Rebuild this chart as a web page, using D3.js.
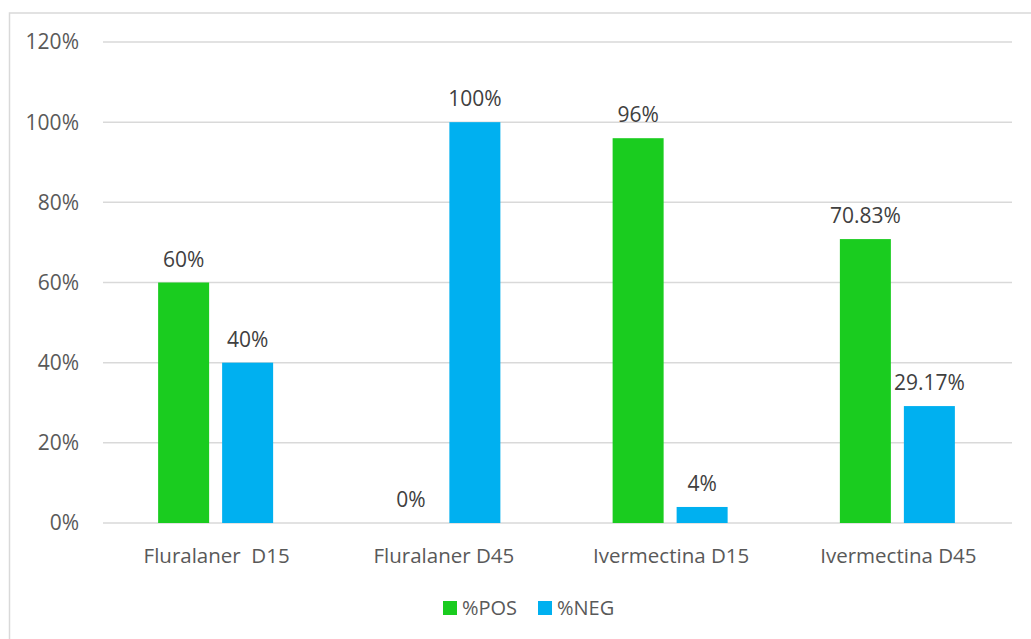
<!DOCTYPE html>
<html lang="en">
<head>
    <meta charset="UTF-8">
    <title>%POS / %NEG</title>
    <script src="https://d3js.org/d3.v7.min.js"></script>
    <style>
        body { margin: 0; background: #fff; }
        text { font-family: "Open Sans", "Noto Sans", sans-serif; fill: #595959; }
    </style>
</head>
<body>
    <svg width="1031" height="639" id="chart"></svg>
    <script>
        const width = 1031;
        const height = 639;

        // Data
        const categories = ["Fluralaner  D15", "Fluralaner D45", "Ivermectina D15", "Ivermectina D45"];
        const posValues = [60, 0, 96, 70.83];
        const negValues = [40, 100, 4, 29.17];
        const posLabels = ["60%", "0%", "96%", "70.83%"];
        const negLabels = ["40%", "100%", "4%", "29.17%"];
        const yTicks = [0, 20, 40, 60, 80, 100, 120];
        const seriesNames = ["%POS", "%NEG"];
        const seriesColors = ["#1acc1f", "#00b0f0"];

        const series = [
            { name: seriesNames[0], values: posValues, labels: posLabels, color: seriesColors[0] },
            { name: seriesNames[1], values: negValues, labels: negLabels, color: seriesColors[1] }
        ];

        const margin = { left: 103, right: 19, top: 42, bottom: 116 };
        const svg = d3.select("#chart");

        // Outer chart border (runs off the right and bottom edges)
        svg.append("rect")
            .attr("x", 9.5)
            .attr("y", 13)
            .attr("width", width + 20)
            .attr("height", height + 20)
            .attr("fill", "none")
            .attr("stroke", "#d9d9d9")
            .attr("stroke-width", 1.5);

        const x = d3.scaleBand()
            .domain(categories)
            .range([margin.left, width - margin.right]);

        const y = d3.scaleLinear()
            .domain([0, 120])
            .range([height - margin.bottom, margin.top]);

        // Gridlines
        svg.append("g")
            .selectAll("line")
            .data(yTicks)
            .join("line")
            .attr("x1", margin.left)
            .attr("x2", width - margin.right)
            .attr("y1", d => y(d))
            .attr("y2", d => y(d))
            .attr("stroke", "#d9d9d9")
            .attr("stroke-width", 1.5);

        // Y tick labels
        svg.append("g")
            .selectAll("text")
            .data(yTicks)
            .join("text")
            .attr("x", 79)
            .attr("y", d => y(d))
            .attr("dy", "0.35em")
            .attr("text-anchor", "end")
            .attr("font-size", "21px")
            .text(d => d + "%");

        // Bars
        const barW = 51;
        const gap = 13;
        const offsets = [-(barW + gap / 2) - 1, gap / 2 - 1];

        series.forEach((s, si) => {
            const g = svg.append("g");
            g.selectAll("rect")
                .data(s.values)
                .join("rect")
                .attr("x", (d, i) => x(categories[i]) + x.bandwidth() / 2 + offsets[si])
                .attr("y", d => y(d))
                .attr("width", barW)
                .attr("height", d => y(0) - y(d))
                .attr("fill", s.color);

            g.selectAll("text")
                .data(s.values)
                .join("text")
                .attr("x", (d, i) => x(categories[i]) + x.bandwidth() / 2 + offsets[si] + barW / 2)
                .attr("y", d => y(d) - 16)
                .attr("text-anchor", "middle")
                .attr("font-size", "21px")
                .style("fill", "#404040")
                .text((d, i) => s.labels[i]);
        });

        // Category labels
        svg.append("g")
            .selectAll("text")
            .data(categories)
            .join("text")
            .attr("x", d => x(d) + x.bandwidth() / 2)
            .attr("y", 563)
            .attr("text-anchor", "middle")
            .attr("font-size", "20.5px")
            .style("white-space", "pre")
            .text(d => d);

        // Legend
        const legendX = [443, 538];
        const legend = svg.append("g");
        series.forEach((s, i) => {
            legend.append("rect")
                .attr("x", legendX[i])
                .attr("y", 601)
                .attr("width", 14)
                .attr("height", 14)
                .attr("fill", s.color);
            legend.append("text")
                .attr("x", legendX[i] + 19)
                .attr("y", 615)
                .attr("font-size", "20px")
                .text(s.name);
        });
    </script>
</body>
</html>
